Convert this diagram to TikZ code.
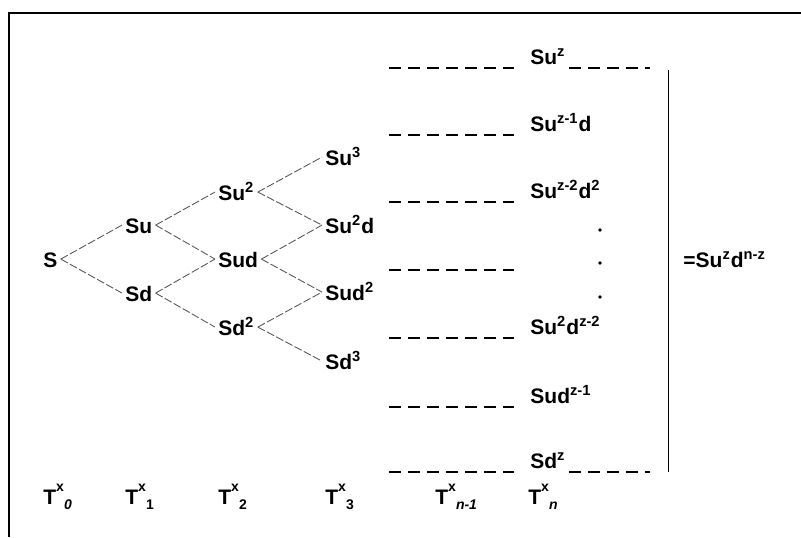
\documentclass[tikz,border=0pt]{standalone}
\usepackage{fontspec}
\setmainfont{Liberation Sans}
\usetikzlibrary{positioning}
\newcommand{\Tx}[1]{T\raisebox{1.1ex}{\scriptsize x}\raisebox{-0.5ex}{\scriptsize #1}}

\begin{document}
\begin{tikzpicture}[x=0.5pt,y=-0.5pt,
  st/.style={inner sep=1.5pt,anchor=base west,text height=1.5ex,text depth=0pt,
             font=\fontsize{10.5}{12}\bfseries\selectfont},
  br/.style={line width=0.45pt,black!65,dash pattern=on 4pt off 1.2pt},
  lead/.style={line width=1pt,dash pattern=on 6pt off 3.5pt}
]
  \useasboundingbox (0,0) rectangle (801,537);
  \draw[line width=1pt] (801,13) -- (9,13) -- (9,537);

  % binomial tree
  \node[st] (s)    at (40,267)  {S};
  \node[st] (su)   at (122,233) {Su};
  \node[st] (sd)   at (122,301) {Sd};
  \node[st] (suu)  at (215,200) {Su\textsuperscript{2}};
  \node[st] (sud)  at (215,267) {Sud};
  \node[st] (sdd)  at (215,335) {Sd\textsuperscript{2}};
  \node[st] (suuu) at (322,165) {Su\textsuperscript{3}};
  \node[st] (suud) at (322,233) {Su\textsuperscript{2}d};
  \node[st] (sudd) at (322,300) {Sud\textsuperscript{2}};
  \node[st] (sddd) at (322,369) {Sd\textsuperscript{3}};

  \foreach \a/\b in {s/su,s/sd,su/suu,su/sud,sd/sud,sd/sdd,
                     suu/suuu,suu/suud,sud/suud,sud/sudd,sdd/sudd,sdd/sddd}
    \draw[br] (\a.east) -- (\b.west);

  % leaders to the last period
  \foreach \y [count=\i] in {68,135,202,270,338,407,472} {
    \coordinate (l\i) at (389,\y);
    \coordinate (r\i) at (514,\y);
    \draw[lead] (l\i) -- (r\i);
  }

  \node[st] (n1) at (527,64)  {Su\textsuperscript{z}};
  \node[st] (n2) at (527,131) {Su\textsuperscript{z-1}d};
  \node[st] (n3) at (527,198) {Su\textsuperscript{z-2}d\textsuperscript{2}};
  \node[st] (n5) at (527,334) {Su\textsuperscript{2}d\textsuperscript{z-2}};
  \node[st] (n6) at (527,403) {Sud\textsuperscript{z-1}};
  \node[st] (n7) at (527,468) {Sd\textsuperscript{z}};
  \foreach \y in {230,263,297}
    \fill (600,\y) circle (1.8);

  \coordinate (tr) at (650,68);
  \coordinate (bt) at (650,472);
  \draw[lead] (n1.east |- tr) -- (tr);
  \draw[lead] (n7.east |- bt) -- (bt);

  \coordinate (vt) at (668,70);
  \coordinate (vb) at (668,472);
  \draw[line width=0.5pt] (vt) -- (vb);
  \node[st] (res) at (680,267) {=Su\textsuperscript{z}d\textsuperscript{n-z}};

  % periods
  \node[st] (t0) at (40,504)  {\Tx{\itshape 0}};
  \node[st] (t1) at (122,504) {\Tx{1}};
  \node[st] (t2) at (215,504) {\Tx{2}};
  \node[st] (t3) at (322,504) {\Tx{3}};
  \node[st] (tm) at (432,504) {\Tx{\itshape n-1}};
  \node[st] (tn) at (525,504) {\Tx{\itshape n}};
\end{tikzpicture}
\end{document}
